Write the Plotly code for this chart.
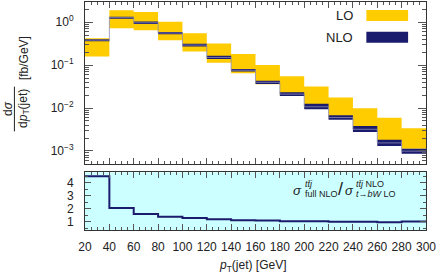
import plotly.graph_objects as go
import numpy as np

# ---------------- data ----------------
bin_edges = [20, 40, 60, 80, 100, 120, 140, 160, 180, 200, 220, 240, 260, 280, 300]
lo_upper = [0.425, 1.90, 1.73, 1.02, 0.556, 0.319, 0.181, 0.1005, 0.0547, 0.0316, 0.0175, 0.0099, 0.0059, 0.0034]
lo_lower = [0.159, 0.726, 0.652, 0.382, 0.208, 0.114, 0.0649, 0.0357, 0.0192, 0.0099, 0.0056, 0.0030, 0.00176, 0.00113]
nlo_central = [0.382, 1.28, 0.97, 0.56, 0.293, 0.151, 0.076, 0.0398, 0.0211, 0.0107, 0.0060, 0.0032, 0.00154, 0.00099]
nlo_upper = [0.403, 1.349, 1.032, 0.595, 0.314, 0.165, 0.0812, 0.0435, 0.0233, 0.0125, 0.0068, 0.0038, 0.00183, 0.00113]
nlo_lower = [0.362, 1.212, 0.913, 0.527, 0.272, 0.1386, 0.0714, 0.0364, 0.0192, 0.0094, 0.0053, 0.00275, 0.0013, 0.000865]
ratio = [4.5, 2.05, 1.58, 1.37, 1.27, 1.17, 1.10, 1.08, 1.03, 1.02, 0.98, 0.98, 0.94, 1.00]

x_tickvals = [20, 40, 60, 80, 100, 120, 140, 160, 180, 200, 220, 240, 260, 280, 300]
y_tickvals = [1e-3, 1e-2, 1e-1, 1]
y_ticktext = ["10<sup>\u22123</sup>", "10<sup>\u22122</sup>", "10<sup>\u22121</sup>", "10<sup>0</sup>"]
r_tickvals = [1, 2, 3, 4]

YELLOW = "#FFCC00"
NAVY = "#1B1B6E"
CYAN = "#CCFFFF"
FONT = "Liberation Sans"

W, H = 437, 273
L, R, T, B = 85, 9, 1, 43


def step(v):
    return list(v) + [v[-1]]


def px(xp):
    return (xp - L) / (W - L - R)


def py(yp):
    return (H - B - yp) / (H - B - T)


fig = go.Figure()

# LO band
fig.add_trace(go.Scatter(x=bin_edges, y=step(lo_upper), mode="lines",
                         line=dict(shape="hv", width=0, color=YELLOW),
                         xaxis="x", yaxis="y", showlegend=False, hoverinfo="skip"))
fig.add_trace(go.Scatter(x=bin_edges, y=step(lo_lower), mode="lines",
                         line=dict(shape="hv", width=0, color=YELLOW),
                         fill="tonexty", fillcolor=YELLOW,
                         xaxis="x", yaxis="y", showlegend=False, hoverinfo="skip"))
# NLO band
fig.add_trace(go.Scatter(x=bin_edges, y=step(nlo_upper), mode="lines",
                         line=dict(shape="hv", width=0, color=NAVY),
                         xaxis="x", yaxis="y", showlegend=False, hoverinfo="skip"))
fig.add_trace(go.Scatter(x=bin_edges, y=step(nlo_lower), mode="lines",
                         line=dict(shape="hv", width=0, color=NAVY),
                         fill="tonexty", fillcolor=NAVY,
                         xaxis="x", yaxis="y", showlegend=False, hoverinfo="skip"))
# NLO central line
fig.add_trace(go.Scatter(x=bin_edges, y=step(nlo_central), mode="lines",
                         line=dict(shape="hv", width=1, color="rgba(140,140,180,0.8)"),
                         xaxis="x", yaxis="y", showlegend=False, hoverinfo="skip"))
# ratio
fig.add_trace(go.Scatter(x=bin_edges, y=step(ratio), mode="lines",
                         line=dict(shape="hv", width=2, color=NAVY),
                         xaxis="x2", yaxis="y2", showlegend=False, hoverinfo="skip"))

minor_log = [m * 10.0 ** k for k in range(-4, 1) for m in range(2, 10)]

axis_common = dict(showline=True, linecolor="#333333", linewidth=1, mirror="allticks",
                   ticks="inside", tickcolor="#555555", showgrid=False, zeroline=False)

fig.update_layout(
    width=W, height=H,
    margin=dict(l=L, r=R, t=T, b=B, pad=0),
    paper_bgcolor="white", plot_bgcolor="white",
    font=dict(family=FONT, size=12, color="#222222"),
    xaxis=dict(domain=[0, 1], range=[20, 300], anchor="y",
               tickvals=x_tickvals, showticklabels=False, ticklen=6,
               minor=dict(dtick=5, ticks="inside", ticklen=3, tickcolor="#555555"),
               **axis_common),
    yaxis=dict(domain=[py(164), 1], type="log", range=[-3.311, 0.471], anchor="x",
               tickvals=y_tickvals, ticktext=y_ticktext, ticklen=8,
               ticklabelstandoff=8,
               minor=dict(tickvals=minor_log, ticks="inside", ticklen=4, tickcolor="#555555"),
               **axis_common),
    xaxis2=dict(domain=[0, 1], range=[20, 300], anchor="y2",
                tickvals=x_tickvals, ticklen=6, ticklabelstandoff=6,
                ticklabeloverflow="allow",
                minor=dict(dtick=5, ticks="inside", ticklen=3, tickcolor="#555555"),
                **axis_common),
    yaxis2=dict(domain=[0, py(172)], range=[0.35, 4.8], anchor="x2",
                tickvals=r_tickvals, ticklen=6, ticklabelstandoff=8,
                minor=dict(dtick=0.5, ticks="inside", ticklen=3, tickcolor="#555555"),
                **axis_common),
)

shapes = [
    # cyan ratio background
    dict(type="rect", xref="x2 domain", yref="y2 domain", x0=0, x1=1, y0=0, y1=1,
         fillcolor=CYAN, line=dict(width=0), layer="below"),
    # legend boxes
    dict(type="rect", xref="paper", yref="paper", x0=px(368), x1=px(410), y0=py(20), y1=py(9),
         fillcolor=YELLOW, line=dict(width=0)),
    dict(type="rect", xref="paper", yref="paper", x0=px(368), x1=px(410), y0=py(42), y1=py(31),
         fillcolor=NAVY, line=dict(width=0)),
    # fraction bar of y title
    dict(type="line", xref="paper", yref="paper", x0=px(14), x1=px(14), y0=py(86), y1=py(131),
         line=dict(color="#222222", width=1)),
]
fig.update_layout(shapes=shapes)

ann = []


def add(text, x, y, size=12, xanchor="center", yanchor="middle", angle=0):
    ann.append(dict(text=text, xref="paper", yref="paper", x=x, y=y, showarrow=False,
                    xanchor=xanchor, yanchor=yanchor, textangle=angle,
                    font=dict(family=FONT, size=size, color="#222222")))


# legend labels
add("LO", px(357), py(14.5), size=13, xanchor="right")
add("NLO", px(357), py(36.5), size=13, xanchor="right")

# y-axis title (fraction)
add("d<i>σ</i>", px(7), py(108), size=12, angle=-90)
add("d<i>p</i><sub>T</sub>(jet)", px(23), py(108), size=12, angle=-90)
add("[fb/GeV]", px(23), py(57), size=12, angle=-90)

# x-axis title
add("<i>p</i><sub>T</sub>(jet) [GeV]", px(254), py(266), size=12)

# ratio label
add("<i>σ</i>", px(299), py(190), size=13)
add("<i>t</i><i>t\u0304</i><i>j</i>", px(304), py(184), size=9, xanchor="left")
add("full NLO", px(304), py(194), size=9, xanchor="left")
add("/", px(342), py(189), size=18)
add("<i>σ</i>", px(351), py(190), size=13)
add("<i>t</i><i>t\u0304</i><i>j</i> NLO", px(356), py(184), size=9, xanchor="left")
add("<i>t</i>\u2192<i>bW</i> LO", px(356), py(194), size=9, xanchor="left")

fig.update_layout(annotations=ann)

fig.write_html("out.html", config={"displayModeBar": False},
               post_script="document.body.style.margin='0px';")
